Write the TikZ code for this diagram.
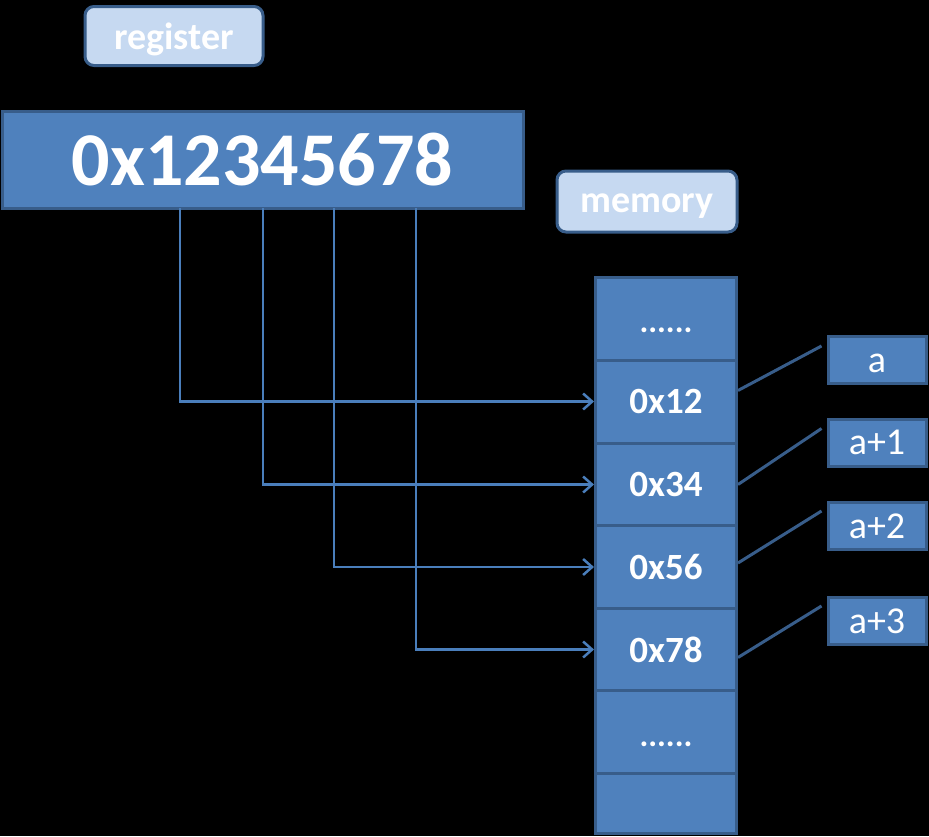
\documentclass[tikz,border=0pt]{standalone}
\usepackage{fontspec}
\setmainfont{Carlito}
\usetikzlibrary{arrows.meta}
\definecolor{boxfill}{HTML}{4F81BD}
\definecolor{boxline}{HTML}{385D8A}
\definecolor{lightfill}{HTML}{C6D9F1}
\definecolor{arrowcol}{HTML}{4A7EBB}
\begin{document}
\begin{tikzpicture}[x=1pt,y=-1pt,
  cell/.style={draw=boxline,fill=boxfill,line width=3pt,minimum width=141pt,minimum height=83pt,inner sep=0pt,text=white,font=\fontsize{37}{40}\selectfont\bfseries},
  dots/.style={font=\fontsize{33}{36}\selectfont\bfseries,text height=28pt,text depth=0pt},
  tag/.style={draw=boxline,fill=lightfill,line width=3pt,rounded corners=9pt,inner sep=0pt,text=white,font=\fontsize{38}{40}\selectfont\bfseries,text depth=0pt},
  addr/.style={draw=boxline,fill=boxfill,line width=3pt,minimum width=98pt,minimum height=47pt,inner sep=0pt,text=white,font=\fontsize{38}{40}\selectfont,text height=24pt,text depth=0pt},
  feed/.style={draw=arrowcol,line width=2.5pt,-{Straight Barb[length=9pt,width=16pt,line width=2.5pt]}},
  link/.style={draw=boxline,line width=3pt}]
\fill[black] (0,0) rectangle (929,836);
\useasboundingbox (0,0) rectangle (929,836);
% labels
\node[tag,minimum width=178pt,minimum height=59pt,text height=27pt] (regtag) at (174,36) {register};
\node[tag,minimum width=180pt,minimum height=61pt,text height=22pt] (memtag) at (647,201.5) {memory};
% register
\node[draw=boxline,fill=boxfill,line width=3pt,minimum width=521pt,minimum height=97pt,inner sep=0pt,text=white,font=\fontsize{76}{80}\selectfont\bfseries] (reg) at (262.5,159.5) {0x12345678};
% memory cells
\node[cell,dots] (m0) at (666,318.5) {......};
\node[cell] (m1) at (666,401.5) {0x12};
\node[cell] (m2) at (666,484.5) {0x34};
\node[cell] (m3) at (666,567) {0x56};
\node[cell] (m4) at (666,649.5) {0x78};
\node[cell,dots] (m5) at (666,732) {......};
\node[cell,minimum height=60pt] (m6) at (666,803) {};
% address labels
\node[addr] (a0) at (877,360) {a};
\node[addr] (a1) at (877,442.5) {a+1};
\node[addr] (a2) at (877,526) {a+2};
\node[addr] (a3) at (877,621) {a+3};
% taps on the register
\coordinate (t1) at (180,208);
\coordinate (t2) at (263,208);
\coordinate (t3) at (334,208);
\coordinate (t4) at (416,208);
\draw[feed] (t1) |- (m1.west);
\draw[feed] (t2) |- (m2.west);
\draw[feed] (t3) |- (m3.west);
\draw[feed] (t4) |- (m4.west);
% links to addresses
\draw[link] ([yshift=11pt]m1.east) -- ([xshift=-5pt,yshift=14pt]a0.west);
\draw[link] (m2.east) -- ([xshift=-5pt,yshift=14pt]a1.west);
\draw[link] ([yshift=4pt]m3.east) -- ([xshift=-5pt,yshift=15pt]a2.west);
\draw[link] ([yshift=-8pt]m4.east) -- ([xshift=-5pt,yshift=15pt]a3.west);
\end{tikzpicture}
\end{document}
